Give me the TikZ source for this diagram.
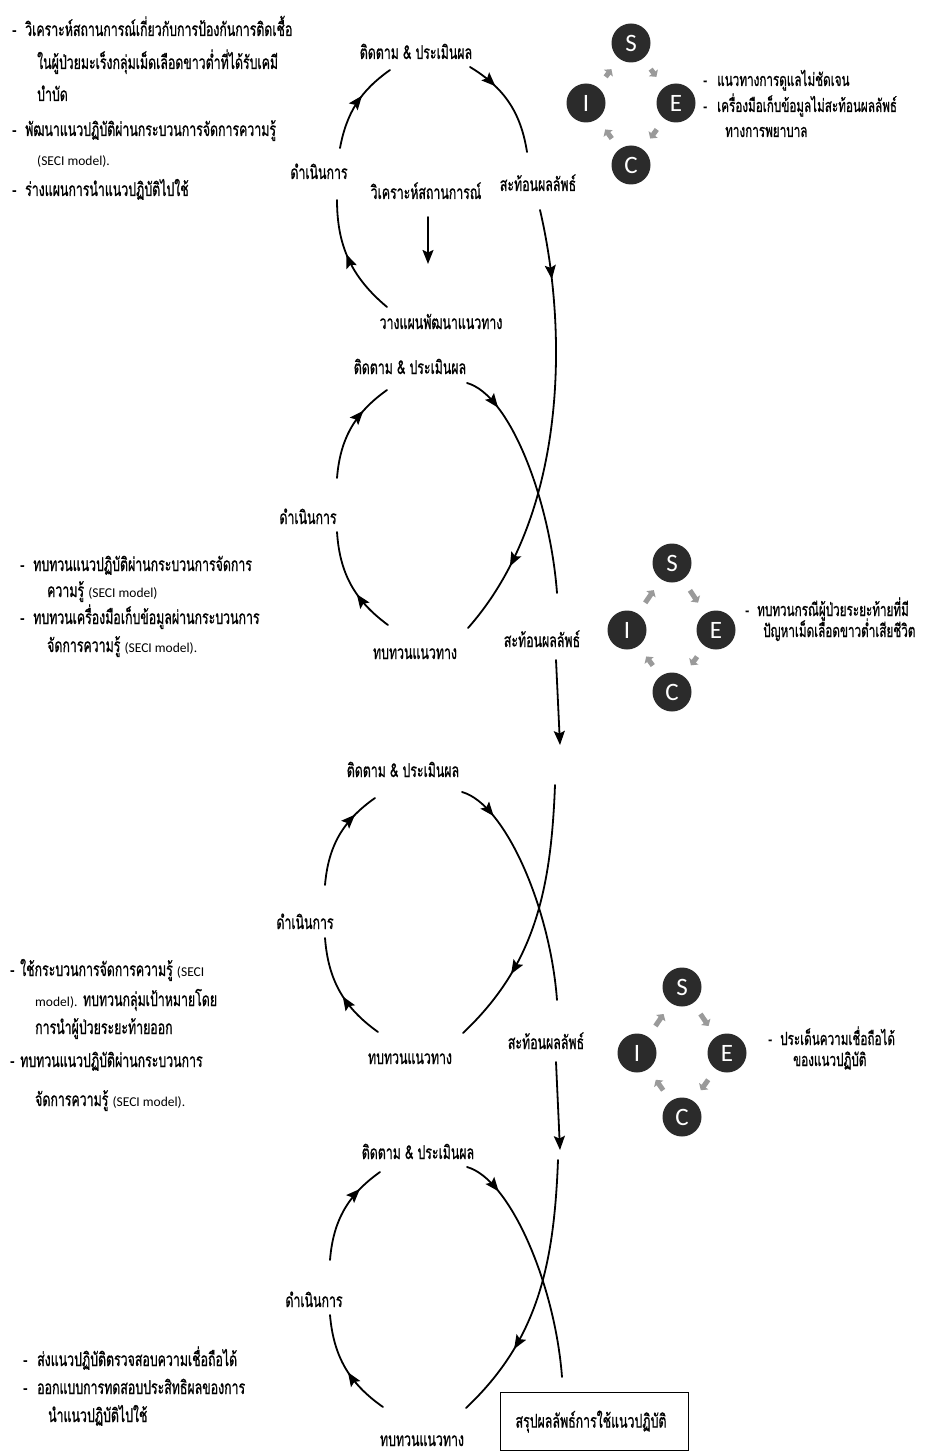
\documentclass[tikz,border=0pt]{standalone}
\usepackage{fontspec}
\setmainfont{Carlito}
\newfontfamily\thaifont[Script=Thai,FakeStretch=0.65,FakeBold=0.8]{Loma}
\newfontfamily\latfont{Carlito}
\usetikzlibrary{arrows.meta,decorations.markings}
\definecolor{secidark}{HTML}{2B2B2B}
\definecolor{secigray}{HTML}{9A9A9A}
\newcommand\smlat[1]{{\latfont\fontsize{13.5}{15}\selectfont #1}}
\newcommand\dsh[1]{\makebox[#1][l]{-}}
\tikzset{
  lbl/.style={font=\thaifont\fontsize{19}{20}\selectfont, inner sep=0pt, anchor=base},
  itm/.style={font=\thaifont\fontsize{19}{20}\selectfont, inner sep=0pt, anchor=base west},
  sitm/.style={font=\thaifont\fontsize{18}{19}\selectfont, inner sep=0pt, anchor=base west},
  flow/.style={line width=1.8pt, line cap=round},
  ar/.style={postaction={decorate}, decoration={markings, mark=at position #1 with {\arrow{>}}}},
  artwo/.style 2 args={postaction={decorate}, decoration={markings, mark=at position #1 with {\arrow{>}}, mark=at position #2 with {\arrow{>}}}},
  seci/.style={circle, fill=secidark, text=white, minimum size=39pt, inner sep=0pt, font=\latfont\fontsize{25}{25}\selectfont},
  secilink/.style={draw=secigray, line width=5pt, -{Triangle[length=5pt,width=11pt]}, shorten <=13pt, shorten >=13pt},
  boxed/.style={draw, line width=1.2pt, font=\thaifont\fontsize{19}{20}\selectfont, align=left, text width=158pt, minimum height=58pt, inner xsep=15pt, inner ysep=0pt}
}
\begin{document}
\begin{tikzpicture}[x=1pt, y=-1pt, >={Stealth[length=14pt,width=11pt,inset=2.5pt]}]
\fill[white] (0,0) rectangle (925,1455);
\useasboundingbox (0,0) rectangle (925,1455);

% ---------------- left text blocks ----------------
\node[itm] (b1l1) at (12,36)  {\dsh{13pt}วิเคราะห์สถานการณ์เกี่ยวกับการป้องกันการติดเชื้อ};
\node[itm] (b1l2) at (37,69)  {ในผู้ป่วยมะเร็งกลุ่มเม็ดเลือดขาวต่ำที่ได้รับเคมี};
\node[itm] (b1l3) at (37,101) {บำบัด};
\node[itm] (b1l4) at (12,136) {\dsh{13pt}พัฒนาแนวปฏิบัติผ่านกระบวนการจัดการความรู้};
\node[itm] (b1l5) at (37,166) {\smlat{(SECI model).}};
\node[itm] (b1l6) at (12,196) {\dsh{13pt}ร่างแผนการนำแนวปฏิบัติไปใช้};

\node[itm] (b2l1) at (20,571) {\dsh{13pt}ทบทวนแนวปฏิบัติผ่านกระบวนการจัดการ};
\node[itm] (b2l2) at (47,597) {ความรู้ \smlat{(SECI model)}};
\node[itm] (b2l3) at (20,624) {\dsh{13pt}ทบทวนเครื่องมือเก็บข้อมูลผ่านกระบวนการ};
\node[itm] (b2l4) at (47,652) {จัดการความรู้ \smlat{(SECI model).}};

\node[itm] (b3l1) at (10,976)  {\dsh{10pt}ใช้กระบวนการจัดการความรู้ \smlat{(SECI}};
\node[itm] (b3l2) at (35,1006) {\smlat{model).} ทบทวนกลุ่มเป้าหมายโดย};
\node[itm] (b3l3) at (35,1034) {การนำผู้ป่วยระยะท้ายออก};
\node[itm] (b3l4) at (10,1067) {\dsh{10pt}ทบทวนแนวปฏิบัติผ่านกระบวนการ};
\node[itm] (b3l5) at (35,1106) {จัดการความรู้ \smlat{(SECI model).}};

\node[itm] (b4l1) at (23,1366) {\dsh{14pt}ส่งแนวปฏิบัติตรวจสอบความเชื่อถือได้};
\node[itm] (b4l2) at (23,1394) {\dsh{14pt}ออกแบบการทดสอบประสิทธิผลของการ};
\node[itm] (b4l3) at (48,1422) {นำแนวปฏิบัติไปใช้};

% ---------------- SECI groups ----------------
\node[seci] (sA) at (631,43)  {S};
\node[seci] (eA) at (676,103) {E};
\node[seci] (cA) at (631,165) {C};
\node[seci] (iA) at (586,103) {I};
\draw[secilink] (sA) -- (eA);
\draw[secilink] (eA) -- (cA);
\draw[secilink] (cA) -- (iA);
\draw[secilink] (iA) -- (sA);
\node[sitm] (tA1) at (703,86)  {\dsh{14pt}แนวทางการดูแลไม่ชัดเจน};
\node[sitm] (tA2) at (703,112) {\dsh{14pt}เครื่องมือเก็บข้อมูลไม่สะท้อนผลลัพธ์};
\node[sitm] (tA3) at (725,137) {ทางการพยาบาล};

\node[seci] (sB) at (672,563) {S};
\node[seci] (eB) at (716,630) {E};
\node[seci] (cB) at (672,692) {C};
\node[seci] (iB) at (627,630) {I};
\draw[secilink] (sB) -- (eB);
\draw[secilink] (eB) -- (cB);
\draw[secilink] (cB) -- (iB);
\draw[secilink] (iB) -- (sB);
\node[sitm] (tB1) at (745,616) {\dsh{12pt}ทบทวนกรณีผู้ป่วยระยะท้ายที่มี};
\node[sitm] (tB2) at (763,637) {ปัญหาเม็ดเลือดขาวต่ำเสียชีวิต};

\node[seci] (sC) at (682,987)  {S};
\node[seci] (eC) at (727,1053) {E};
\node[seci] (cC) at (682,1117) {C};
\node[seci] (iC) at (637,1053) {I};
\draw[secilink] (sC) -- (eC);
\draw[secilink] (eC) -- (cC);
\draw[secilink] (cC) -- (iC);
\draw[secilink] (iC) -- (sC);
\node[sitm] (tC1) at (768,1045) {\dsh{12pt}ประเด็นความเชื่อถือได้};
\node[sitm] (tC2) at (793,1066) {ของแนวปฏิบัติ};

% ---------------- loop 1 ----------------
\node[lbl] (t1) at (416,59)  {ติดตาม \& ประเมินผล};
\node[lbl] (d1) at (319,179) {ดำเนินการ};
\node[lbl] (v1) at (426,199) {วิเคราะห์สถานการณ์};
\node[lbl] (s1) at (538,191) {สะท้อนผลลัพธ์};
\node[lbl] (p1) at (441,329) {วางแผนพัฒนาแนวทาง};
\coordinate (a1s) at (340,148); \coordinate (a1e) at (390,70);
\coordinate (b1s) at (470,67);  \coordinate (b1e) at (527,152);
\coordinate (c1s) at (387,307); \coordinate (c1e) at (337,200);
\coordinate (v1a) at (428,217); \coordinate (v1b) at (428,264);
\coordinate (l1s) at (540,210); \coordinate (l1e) at (468,628);
\draw[flow, ar=0.6]  (a1s) to[bend left=22] (a1e);
\draw[flow, ar=0.3]  (b1s) to[bend left=25] (b1e);
\draw[flow, ar=0.55] (c1s) to[bend left=25] (c1e);
\draw[flow, ->] (v1a) -- (v1b);
\draw[flow, artwo={0.16}{0.83}] (l1s) .. controls (568,330) and (568,515) .. (l1e);

% ---------------- loop 2 ----------------
\node[lbl] (t2) at (410,374)  {ติดตาม \& ประเมินผล};
\node[lbl] (d2) at (308,524)  {ดำเนินการ};
\node[lbl] (r2) at (415,659)  {ทบทวนแนวทาง};
\node[lbl] (s2) at (542,647)  {สะท้อนผลลัพธ์};
\coordinate (a2s) at (337,478); \coordinate (a2e) at (387,390);
\coordinate (b2s) at (467,383); \coordinate (b2e) at (557,593);
\coordinate (c2s) at (388,625); \coordinate (c2e) at (337,532);
\coordinate (d2a) at (556,660); \coordinate (d2b) at (560,745);
\draw[flow, ar=0.7]  (a2s) to[bend left=25] (a2e);
\draw[flow, ar=0.17] (b2s) .. controls (510,395) and (550,500) .. (b2e);
\draw[flow, ar=0.4]  (c2s) to[bend left=25] (c2e);
\draw[flow, ->] (d2a) -- (d2b);

% ---------------- loop 3 ----------------
\node[lbl] (t3) at (403,777)  {ติดตาม \& ประเมินผล};
\node[lbl] (d3) at (305,929)  {ดำเนินการ};
\node[lbl] (r3) at (410,1064) {ทบทวนแนวทาง};
\node[lbl] (s3) at (546,1049) {สะท้อนผลลัพธ์};
\coordinate (a3s) at (325,885);  \coordinate (a3e) at (375,798);
\coordinate (b3s) at (462,792);  \coordinate (b3e) at (557,1000);
\coordinate (c3s) at (378,1032); \coordinate (c3e) at (325,938);
\coordinate (l3s) at (555,785);  \coordinate (l3e) at (463,1033);
\coordinate (d3a) at (556,1062); \coordinate (d3b) at (560,1150);
\draw[flow, ar=0.75] (a3s) to[bend left=25] (a3e);
\draw[flow, ar=0.17] (b3s) .. controls (505,804) and (550,907) .. (b3e);
\draw[flow, ar=0.45] (c3s) to[bend left=25] (c3e);
\draw[flow, ar=0.72] (l3s) .. controls (551,890) and (535,965) .. (l3e);
\draw[flow, ->] (d3a) -- (d3b);

% ---------------- loop 4 ----------------
\node[lbl] (t4) at (418,1159) {ติดตาม \& ประเมินผล};
\node[lbl] (d4) at (314,1307) {ดำเนินการ};
\node[lbl] (r4) at (422,1446) {ทบทวนแนวทาง};
\coordinate (a4s) at (330,1260); \coordinate (a4e) at (380,1172);
\coordinate (b4s) at (467,1167); \coordinate (b4e) at (562,1377);
\coordinate (c4s) at (383,1407); \coordinate (c4e) at (330,1315);
\coordinate (l4s) at (558,1160); \coordinate (l4e) at (466,1408);
\draw[flow, ar=0.75] (a4s) to[bend left=25] (a4e);
\draw[flow, ar=0.17] (b4s) .. controls (510,1179) and (555,1284) .. (b4e);
\draw[flow, ar=0.45] (c4s) to[bend left=25] (c4e);
\draw[flow, ar=0.72] (l4s) .. controls (554,1265) and (538,1340) .. (l4e);
\node[boxed, anchor=north west] (sum) at (500,1392) {สรุปผลลัพธ์การใช้แนวปฏิบัติ};
\end{tikzpicture}
\end{document}
